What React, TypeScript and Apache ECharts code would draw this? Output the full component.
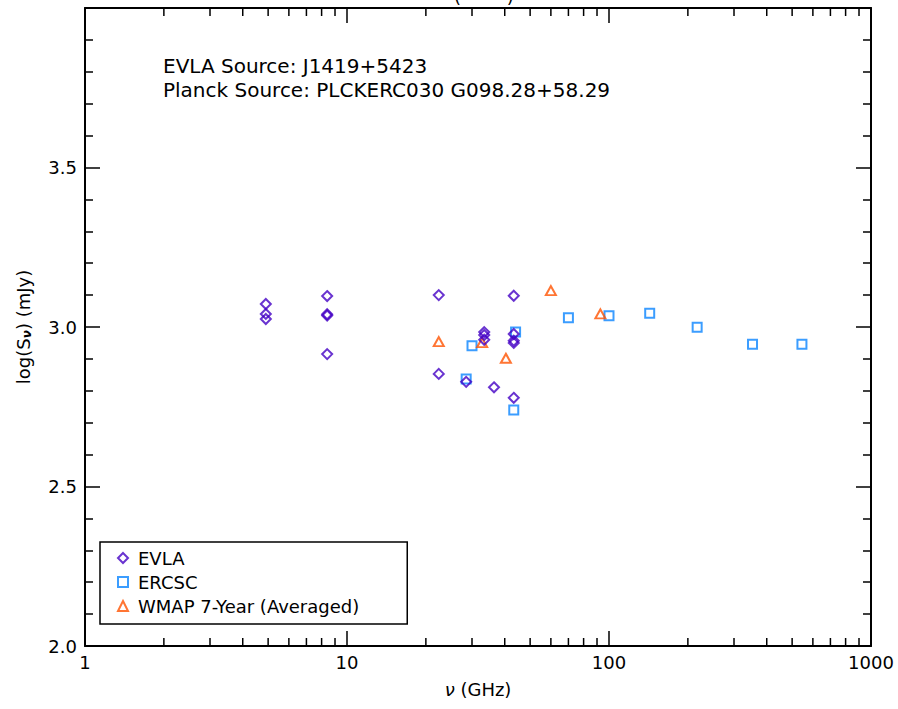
import React, { useEffect, useRef } from "react";
import * as echarts from "echarts";

// Frequencies in GHz and log10 flux densities in mJy
const evlaFreq = [4.9, 4.9, 4.9, 8.4, 8.4, 8.4, 8.4, 22.4, 22.4, 28.5, 33.4, 33.4, 33.4, 36.4, 43.3, 43.3, 43.3, 43.3, 43.3];
const evlaLogS = [3.072, 3.041, 3.025, 3.097, 3.040, 3.036, 2.915, 3.100, 2.853, 2.828, 2.984, 2.975, 2.960, 2.811, 3.098, 2.978, 2.957, 2.950, 2.778];

const ercscFreq = [28.5, 30.0, 43.3, 44.0, 70.0, 100.0, 143.0, 217.0, 353.0, 545.0];
const ercscLogS = [2.837, 2.941, 2.740, 2.984, 3.029, 3.035, 3.043, 2.999, 2.946, 2.946];

const wmapFreq = [22.4, 32.8, 40.4, 60.0, 92.7];
const wmapLogS = [2.954, 2.951, 2.902, 3.114, 3.041];

const xMinorTicks = [2, 3, 4, 5, 6, 7, 8, 9, 20, 30, 40, 50, 60, 70, 80, 90, 200, 300, 400, 500, 600, 700, 800, 900];

const seriesNames = ["EVLA", "ERCSC", "WMAP 7-Year (Averaged)"];
const annotations = ["EVLA Source: J1419+5423", "Planck Source: PLCKERC030 G098.28+58.29"];

const FONT = "DejaVu Sans";
const PURPLE = "#4400c4";
const BLUE = "#0a84ff";
const ORANGE = "#ff5200";

const zip = (xs: number[], ys: number[]) => xs.map((x, i) => [x, ys[i]]);

export default function App() {
  const ref = useRef<HTMLDivElement>(null);

  useEffect(() => {
    if (!ref.current) return;
    const chart = echarts.init(ref.current, null, { renderer: "svg" });

    const axisLine = { show: true, lineStyle: { color: "#000", width: 2 } };
    const tick = { show: true, inside: true, length: 15, lineStyle: { color: "#000", width: 1.5 } };
    const label = { color: "#000", fontFamily: FONT, fontSize: 18 };

    const emptyStyle = (c: string) => ({ color: "rgba(255,255,255,0)", borderColor: c, borderWidth: 2 });

    chart.setOption({
      animation: false,
      backgroundColor: "#fff",
      grid: { left: 85, right: 27, top: 8, bottom: 63, containLabel: false },
      xAxis: [
        {
          type: "log",
          logBase: 10,
          min: 1,
          max: 1000,
          position: "bottom",
          axisLine,
          axisTick: tick,
          splitLine: { show: false },
          axisLabel: { ...label, margin: 7, formatter: (v: number) => String(v) },
          name: "{i|ν} (GHz)",
          nameLocation: "middle",
          nameGap: 34,
          nameTextStyle: {
            ...label,
            rich: {
              i: { fontFamily: FONT, fontSize: 18, fontStyle: "italic", color: "#000" },
            },
          },
        },
        {
          type: "log",
          logBase: 10,
          min: 1,
          max: 1000,
          position: "top",
          axisLine,
          axisTick: tick,
          splitLine: { show: false },
          axisLabel: { show: false },
        },
      ],
      yAxis: [
        {
          type: "value",
          min: 2,
          max: 4,
          interval: 0.5,
          position: "left",
          axisLine,
          axisTick: tick,
          minorTick: { show: true, splitNumber: 5, length: 8, lineStyle: { color: "#000", width: 1.5 } },
          splitLine: { show: false },
          axisLabel: {
            ...label,
            margin: 8,
            showMaxLabel: false,
            formatter: (v: number) => v.toFixed(1),
          },
          name: "log(S{s|ν}) (mJy)",
          nameLocation: "middle",
          nameGap: 52,
          nameRotate: 90,
          nameTextStyle: {
            ...label,
            rich: {
              s: { fontFamily: FONT, fontSize: 12, fontWeight: "bold", fontStyle: "italic", color: "#000", padding: [8, 0, 0, 0] },
            },
          },
        },
        {
          type: "value",
          min: 2,
          max: 4,
          interval: 0.5,
          position: "right",
          axisLine,
          axisTick: tick,
          minorTick: { show: true, splitNumber: 5, length: 8, lineStyle: { color: "#000", width: 1.5 } },
          splitLine: { show: false },
          axisLabel: { show: false },
        },
      ],
      legend: {
        data: seriesNames,
        orient: "vertical",
        left: 100,
        top: 542,
        padding: [6, 48, 8, 17],
        itemWidth: 10,
        itemHeight: 10,
        itemGap: 4,
        borderColor: "#000",
        borderWidth: 1.5,
        borderRadius: 0,
        backgroundColor: "#fff",
        textStyle: { color: "#000", fontFamily: FONT, fontSize: 18, lineHeight: 20, padding: [0, 0, 0, 5] },
        selectedMode: false,
      },
      graphic: [
        {
          type: "text",
          left: 454,
          top: -13,
          style: { text: "(        )", fill: "#000", font: `18px "${FONT}"` },
          silent: true,
        },
        ...annotations.map((t, i) => ({
          type: "text",
          left: 163,
          top: 56 + i * 24,
          style: { text: t, fill: "#000", font: `20px "${FONT}"` },
          silent: true,
        })),
      ],
      series: [
        {
          name: seriesNames[0],
          type: "scatter",
          symbol: "diamond",
          symbolSize: 10,
          itemStyle: emptyStyle(PURPLE),
          data: zip(evlaFreq, evlaLogS),
          z: 3,
        },
        {
          name: seriesNames[1],
          type: "scatter",
          symbol: "rect",
          symbolSize: 9,
          itemStyle: emptyStyle(BLUE),
          data: zip(ercscFreq, ercscLogS),
          z: 2,
        },
        {
          name: seriesNames[2],
          type: "scatter",
          symbol: "triangle",
          symbolSize: [10, 9],
          itemStyle: emptyStyle(ORANGE),
          data: zip(wmapFreq, wmapLogS),
          z: 2,
        },
        {
          // minor log ticks along the bottom and top frame edges
          type: "custom",
          silent: true,
          clip: false,
          data: xMinorTicks.map((v) => [v, 2]),
          encode: { x: 0, y: 1 },
          renderItem: (params: any, api: any) => {
            const p = api.coord([api.value(0), 2]);
            const cs = params.coordSys;
            const style = { stroke: "#000", lineWidth: 1.5 };
            return {
              type: "group",
              children: [
                { type: "line", shape: { x1: p[0], y1: cs.y + cs.height, x2: p[0], y2: cs.y + cs.height - 8 }, style },
                { type: "line", shape: { x1: p[0], y1: cs.y, x2: p[0], y2: cs.y + 8 }, style },
              ],
            };
          },
          z: 1,
        },
      ],
    });

    return () => chart.dispose();
  }, []);

  return <div ref={ref} style={{ position: "absolute", left: 0, top: 0, width: 898, height: 709 }} />;
}
